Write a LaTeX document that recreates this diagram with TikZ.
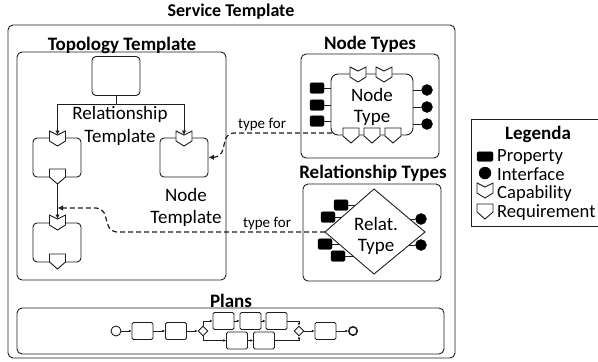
\documentclass[tikz,border=0pt]{standalone}
\usepackage{fontspec}
\setmainfont{Carlito}
\usetikzlibrary{arrows.meta}
\definecolor{ink}{HTML}{1E1E1E}
\tikzset{
  ln/.style={draw=ink,line width=0.9pt},
  panel/.style={ln,rectangle,rounded corners=5pt,inner sep=0pt,fill=white},
  tmpl/.style={panel,rounded corners=4pt,minimum width=48pt,minimum height=39pt},
  task/.style={ln,rectangle,rounded corners=1.5pt,inner sep=0pt,fill=white,minimum width=21pt,minimum height=17pt},
  prop/.style={draw=black,fill=black,rectangle,rounded corners=1.5pt,inner sep=0pt,minimum width=14pt,minimum height=10.5pt},
  iface/.style={draw=black,fill=black,circle,inner sep=0pt,minimum size=11pt},
  gate/.style={ln,fill=white,shape=rectangle,rotate=45,minimum size=6.8pt,inner sep=0pt},
  title/.style={font=\bfseries\fontsize{19}{19}\selectfont,inner sep=0pt,yshift=-2pt},
  lab/.style={font=\fontsize{19}{19}\selectfont,inner sep=0pt,yshift=-2pt},
  leg/.style={font=\fontsize{18.6}{19}\selectfont,inner sep=0pt,anchor=west,yshift=-1pt},
  small/.style={font=\fontsize{15}{15}\selectfont,inner sep=0pt,yshift=-1pt},
  conn/.style={ln,-{Latex[length=4.5pt,width=4.5pt]}},
  flow/.style={draw=ink,line width=0.7pt,-{Latex[length=2.6pt,width=2.6pt]}},
  typedash/.style={draw=ink,line width=1.2pt,dash pattern=on 5pt off 3pt,rounded corners=7pt,-{Latex[length=5.5pt,width=5.5pt]}},
}
% capability: notch on top, point below; #1 name, #2 x centre, #3 y top
\newcommand{\capab}[3]{%
  \draw[ln,fill=white,line join=miter] (#2-8,#3) -- (#2,#3+4) -- (#2+8,#3) -- (#2+8,#3+10) -- (#2,#3+15) -- (#2-8,#3+10) -- cycle;
  \coordinate (#1) at (#2,#3+4);}
% requirement: flat top, point below; #1 name, #2 x centre, #3 y top
\newcommand{\requir}[3]{%
  \draw[ln,fill=white,line join=miter] (#2-8,#3) -- (#2+8,#3) -- (#2+8,#3+8) -- (#2,#3+15) -- (#2-8,#3+8) -- cycle;
  \coordinate (#1) at (#2,#3+15);}
\begin{document}
\begin{tikzpicture}[x=1pt,y=-1pt]
\useasboundingbox (0,0) rectangle (598,362);
\fill[white] (0,0) rectangle (598,362);

% main panels
\node[panel,minimum width=447pt,minimum height=333pt] (service) at (231.5,191.5) {};
\node[title,font=\bfseries\fontsize{18}{18}\selectfont] (servicet) at (231,10) {Service Template};
\node[panel,minimum width=209pt,minimum height=228pt] (topology) at (121.5,166) {};
\node[title] (topot) at (122,43.5) {Topology Template};
\node[panel,minimum width=138pt,minimum height=104pt] (ntypes) at (370,106) {};
\node[title] (ntypest) at (370,42) {Node Types};
\node[panel,minimum width=138pt,minimum height=97pt] (rtypes) at (372,232.5) {};
\node[title] (rtypest) at (373,171) {Relationship Types};
\node[panel,minimum width=427pt,minimum height=46pt] (plans) at (230.5,331) {};
\node[title] (planst) at (231,299) {Plans};

% topology template
\node[tmpl] (rel) at (116,76) {};
\node[tmpl] (n1) at (57,157.5) {};
\node[tmpl] (n2) at (184,157.5) {};
\node[tmpl] (n3) at (57,242.5) {};
\capab{c1}{57.5}{131}
\capab{c2}{184}{131}
\capab{c3}{57.5}{215}
\requir{r1}{57.5}{169}
\requir{r3}{57.5}{254}
\coordinate (bus) at (116,104);
\draw[conn] (rel.south) -- (bus) -| (c1);
\draw[conn] (bus) -| (c2);
\draw[conn] (r1) -- (c3);
\node[lab] (tl1) at (120,112) {Relationship};
\node[lab] (tl2) at (120,135) {Template};
\node[lab] (tl3) at (186,193) {Node};
\node[lab] (tl4) at (186,216) {Template};

% node type
\node[prop] (p1) at (317,88) {};
\node[prop] (p2) at (317,105) {};
\node[prop] (p3) at (317,121) {};
\node[iface] (i1) at (427,90) {};
\node[iface] (i2) at (427,107) {};
\node[iface] (i3) at (427,124) {};
\node[panel,rounded corners=7pt,minimum width=82pt,minimum height=61pt] (nt) at (372,104.5) {};
\foreach \k in {p1,p2,p3} \draw[ln] (\k.east) -- (\k.east -| nt.west);
\foreach \k in {i1,i2,i3} \draw[ln] (\k.west) -- (\k.west -| nt.east);
\capab{nc1}{358}{67}
\capab{nc2}{384}{67}
\requir{nr1}{351}{128}
\requir{nr2}{372}{128}
\requir{nr3}{393}{128}
\node[lab] (nt1) at (372,93) {Node};
\node[lab] (nt2) at (372,116) {Type};

% relationship type
\node[prop] (q1) at (341,205) {};
\node[prop] (q2) at (328,217) {};
\node[prop] (q3) at (325,244) {};
\node[prop] (q4) at (338,256) {};
\node[iface] (j1) at (421,219) {};
\node[iface] (j2) at (421,245) {};
\coordinate (dl) at (325,232);
\coordinate (dr) at (425,232);
\coordinate (dt) at (374,189);
\coordinate (db) at (374,274);
\draw[ln] (q1.east) -- ++(14,0);
\draw[ln] (q2.east) -- ++(14,0);
\draw[ln] (q3.east) -- ++(14,0);
\draw[ln] (q4.east) -- ++(14,0);
\draw[ln] (j1.west) -- ++(-10,0);
\draw[ln] (j2.west) -- ++(-10,0);
\draw[ln,fill=white] (dl) -- (dt) -- (dr) -- (db) -- cycle;
\node[lab] (rt1) at (376,222) {Relat.};
\node[lab] (rt2) at (376,245) {Type};

% type-for connectors
\coordinate (nstart) at (332,133);
\draw[typedash] (nstart) -- (227,133) -- (221,157) -- (n2.east);
\draw[typedash] (dl) -- (110,232) -- (103,208) -- (c3 |- 0,208);
\node[small] (tf1) at (262,124) {type for};
\node[small] (tf2) at (267,223) {type for};

% plan
\node[ln,circle,inner sep=0pt,minimum size=10pt,fill=white] (st) at (116,331) {};
\node[task] (a1) at (142.5,331) {};
\node[task] (a2) at (176,331) {};
\node[gate] (g1) at (203,331) {};
\node[task] (b1) at (223.5,321) {};
\node[task] (b2) at (250.5,321) {};
\node[task] (b3) at (276.5,321) {};
\node[task] (d1) at (237,340.5) {};
\node[task] (d2) at (264,340.5) {};
\node[gate] (g2) at (299,331) {};
\node[task] (a3) at (325.5,331) {};
\node[draw=ink,line width=1.5pt,circle,inner sep=0pt,minimum size=8.5pt,fill=white] (en) at (353,331) {};
\draw[flow] (st) -- (a1);
\draw[flow] (a1) -- (a2);
\draw[flow] (a2) -- (g1.north west);
\draw[flow] (g1.north east) |- (b1.west);
\draw[flow] (g1.south west) |- (d1.west);
\draw[flow] (b1) -- (b2);
\draw[flow] (b2) -- (b3);
\draw[flow] (d1) -- (d2);
\draw[flow] (b3.east) -| (g2.north east);
\draw[flow] (d2.east) -| (g2.south west);
\draw[flow] (g2.south east) -- (a3);
\draw[flow] (a3) -- (en);

% legend
\coordinate (lgA) at (598,119);
\coordinate (lgB) at (471,119);
\coordinate (lgC) at (471,226);
\coordinate (lgD) at (598,226);
\draw[ln] (lgA) -- (lgB) -- (lgC) -- (lgD);
\node[title] (lgt) at (538,132) {Legenda};
\node[prop,minimum width=16pt,minimum height=9.5pt] (lp) at (485,156.5) {};
\node[iface,minimum size=12pt] (li) at (485,173) {};
\capab{lc}{485}{183}
\requir{lr}{485}{204}
\node[leg] (lt1) at (497,156) {Property};
\node[leg] (lt2) at (497,173) {Interface};
\node[leg] (lt3) at (497,193) {Capability};
\node[leg] (lt4) at (497,212) {Requirement};
\end{tikzpicture}
\end{document}
